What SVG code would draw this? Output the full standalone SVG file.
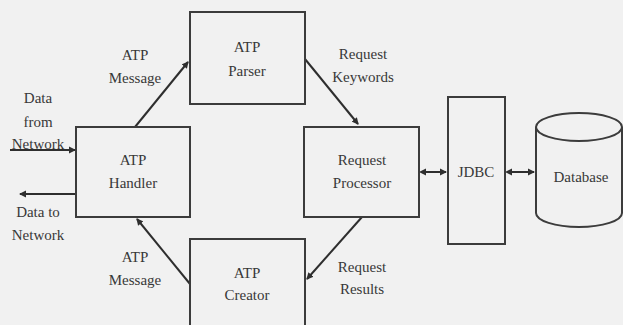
<svg xmlns="http://www.w3.org/2000/svg" width="623" height="325" viewBox="0 0 623 325">
<style>
.box{fill:none;stroke:#3c3c3c;stroke-width:2}
.ln{fill:none;stroke:#2e2e2e;stroke-width:2}
text{font-family:"Liberation Serif","Times New Roman",serif;font-size:15px;fill:#383838;text-anchor:middle}
</style>
<defs>
<marker id="ah" markerWidth="8" markerHeight="8" refX="6" refY="4" orient="auto" markerUnits="userSpaceOnUse">
<path d="M0,0.5 L7,4 L0,7.5 Z" fill="#2e2e2e"/>
</marker>
<marker id="as" markerWidth="8" markerHeight="8" refX="2" refY="4" orient="auto" markerUnits="userSpaceOnUse">
<path d="M7,0.5 L0,4 L7,7.5 Z" fill="#2e2e2e"/>
</marker>
</defs>
<rect width="623" height="325" fill="#f1f1f1"/>
<g id="connectors">
<line class="ln" x1="135" y1="127" x2="188" y2="62" marker-end="url(#ah)"/>
<line class="ln" x1="305" y1="59" x2="358" y2="124" marker-end="url(#ah)"/>
<line class="ln" x1="362" y1="217" x2="307" y2="279" marker-end="url(#ah)"/>
<line class="ln" x1="190" y1="284" x2="137" y2="219" marker-end="url(#ah)"/>
<line class="ln" x1="10" y1="150" x2="75" y2="150" marker-end="url(#ah)"/>
<line class="ln" x1="76" y1="194" x2="20" y2="194" marker-end="url(#ah)"/>
<line class="ln" x1="421" y1="172" x2="446" y2="172" marker-start="url(#as)" marker-end="url(#ah)"/>
<line class="ln" x1="507" y1="172" x2="534" y2="172" marker-start="url(#as)" marker-end="url(#ah)"/>
</g>
<g id="parser">
<rect class="box" x="190" y="12" width="115" height="92"/>
<text x="247" y="52">ATP</text>
<text x="247" y="76">Parser</text>
</g>
<g id="handler">
<rect class="box" x="76" y="127" width="114" height="90"/>
<text x="133" y="165">ATP</text>
<text x="133" y="188">Handler</text>
</g>
<g id="processor">
<rect class="box" x="304" y="127" width="115" height="90"/>
<text x="362" y="165">Request</text>
<text x="362" y="188">Processor</text>
</g>
<g id="creator">
<rect class="box" x="190" y="239" width="115" height="92"/>
<text x="247" y="278">ATP</text>
<text x="247" y="300">Creator</text>
</g>
<g id="jdbc">
<rect class="box" x="448" y="97" width="57" height="147"/>
<text x="476" y="177">JDBC</text>
</g>
<g id="database">
<path class="box" d="M536,127 L536,213 A43,14 0 0 0 622,213 L622,127"/>
<ellipse class="box" cx="579" cy="127" rx="43" ry="14"/>
<text x="581" y="182">Database</text>
</g>
<g id="labels">
<text x="135" y="60">ATP</text>
<text x="135" y="83">Message</text>
<text x="363" y="59">Request</text>
<text x="363" y="82">Keywords</text>
<text x="38" y="103">Data</text>
<text x="38" y="127">from</text>
<text x="38" y="149">Network</text>
<text x="38" y="217">Data to</text>
<text x="38" y="240">Network</text>
<text x="135" y="262">ATP</text>
<text x="135" y="285">Message</text>
<text x="362" y="272">Request</text>
<text x="362" y="294">Results</text>
</g>
</svg>
